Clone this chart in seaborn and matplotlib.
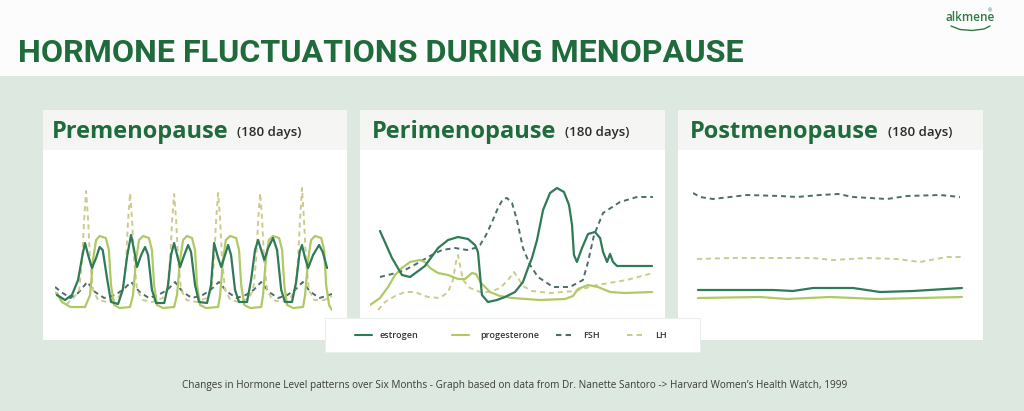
import numpy as np
import pandas as pd
import matplotlib
matplotlib.use("Agg")
import matplotlib.pyplot as plt
import seaborn as sns
from matplotlib.patches import Rectangle
from matplotlib.lines import Line2D

# ---------------- data (relative hormone level over 180 days) ----------------
# Premenopause
pre_est_day = [1.3, 6.5, 11, 15, 17.5, 19.5, 21.5, 24, 26.7, 29, 31, 34, 36.4, 41, 44, 47, 49.4, 51.4, 53.3, 56, 58.5,
               60.5, 63, 65.7, 71, 73.5, 75.4, 77.4, 79.3, 81.3, 84, 86.5, 88.4, 91, 93.6, 98.8, 101.4, 103.4, 106, 108,
               110.5, 112.5, 114.4, 117, 119.6, 124.8, 127.4, 130, 132, 134, 136, 138.5, 141.7, 144.3, 147, 149.5, 154,
               156.7, 159, 160.5, 162.5, 164.5, 167.7, 171.6, 174, 176.8]
pre_est_val = [25, 20, 25, 40, 62, 77, 65, 52, 62, 73, 70, 40, 18, 16, 30, 65, 85, 70, 53, 65, 73,
               65, 30, 17, 17, 35, 65, 77, 65, 53, 65, 75, 68, 35, 18, 17, 35, 77, 62, 53,
               65, 75, 65, 30, 18, 18, 40, 70, 80, 70, 60, 72, 82, 70, 30, 18, 18,
               38, 68, 75, 62, 52, 65, 75, 68, 52]

pre_pro_day = [1.3, 4.5, 10, 19.5, 22.8, 24.7, 26.7, 29, 33, 35, 36.4, 38.4, 42, 48.8, 50.7, 52.7, 54.6, 57.2, 61, 63,
               64.4, 66.3, 70.2, 77.4, 79.3, 81.3, 83.2, 85.8, 89, 91, 92.3, 94.3, 98, 106, 107.3, 109.2, 111, 113.8,
               117.7, 119.6, 121, 123, 126.8, 134, 135.2, 137, 139, 141.7, 145.6, 147.6, 149, 150.8, 154.7, 161.2,
               162.5, 164.5, 166.4, 169, 173, 174.9, 176.2, 178.1, 180]
pre_pro_val = [27, 18, 13, 13, 25, 60, 80, 84, 82, 70, 35, 15, 12, 13, 25, 60, 80, 84, 82, 70,
               35, 15, 12, 13, 25, 60, 80, 84, 82, 70, 35, 15, 12, 13, 25, 60, 80, 84,
               82, 70, 35, 15, 12, 13, 25, 60, 80, 84, 82, 70, 35, 15, 12, 13,
               25, 60, 80, 84, 82, 70, 35, 15, 10]

pre_fsh_day = [0, 5, 10, 15, 21, 26, 32, 39, 44, 49.5, 55, 61, 67, 73, 78, 83, 89, 96, 101, 106.5, 112, 118, 124,
               129, 134, 139, 145, 151, 156, 161, 166, 172, 180]
pre_fsh_val = [33, 27, 22, 27, 38, 28, 22, 25, 30, 38, 28, 22, 25, 30, 38, 28, 22, 25, 30, 38, 28, 22, 25,
               30, 38, 28, 22, 25, 30, 38, 28, 22, 26]

pre_lh_day = [0, 3.3, 7, 12, 15.7, 17.6, 18.9, 20.2, 21.5, 22.8, 24.7, 28, 34, 41,
              44.3, 46.2, 47.5, 48.8, 50.1, 51.4, 53.3, 57, 63, 70,
              72.9, 74.8, 76.1, 77.4, 78.7, 80, 81.9, 85.5, 92, 98.5,
              101.5, 103.4, 104.7, 106, 107.3, 108.6, 110.5, 114, 120, 126,
              128.8, 130.7, 132, 133.3, 134.6, 135.9, 137.8, 141.3, 147.5, 153,
              156, 157.9, 159.2, 160.5, 161.8, 163.1, 165, 168.5, 175, 180]
pre_lh_val = [28, 20, 15, 22, 30, 60, 100, 129, 100, 60, 30, 20, 18, 22,
              30, 60, 100, 127, 100, 60, 30, 20, 18, 22,
              30, 60, 100, 126, 100, 60, 30, 20, 18, 22,
              30, 60, 100, 127, 100, 60, 30, 20, 18, 22,
              30, 60, 100, 127, 100, 60, 30, 20, 18, 22,
              30, 60, 100, 132, 100, 60, 30, 20, 20, 24]

# Perimenopause
peri_est_day = [6.3, 13.9, 20.2, 25.3, 34.7, 43, 49.3, 55.6, 61.9, 66.3, 68.2, 69.5, 70.7, 74.5, 80.2, 85.3, 91.6,
                96.6, 99.8, 102.3, 105.5, 109.3, 113.7, 118.1, 122.5, 125.7, 127.6, 128.8, 130.7, 133.9, 137.7, 142.1,
                145.3, 147.2, 149.7, 151.6, 153.5, 156, 167.4, 178.1]
peri_est_val = [89, 62, 45, 43, 54, 72, 80, 83, 81, 75, 68, 45, 25, 18, 20, 23, 28,
                38, 52, 62, 80, 110, 127, 132, 128, 115, 95, 65, 58, 72, 86, 88,
                82, 68, 58, 66, 58, 54, 54, 54]

peri_pro_day = [0, 6.3, 11.4, 15.8, 20.2, 25.3, 31.6, 34.7, 37.9, 42.9, 49.3, 55.6, 60, 64.4, 67, 70.1, 75.8, 82.1,
                89.7, 107.4, 123.2, 128.2, 131.4, 137.7, 144, 151.6, 161.1, 178.1]
peri_pro_val = [15, 22, 33, 45, 52, 58, 60, 58, 52, 47, 45, 41, 41, 47, 46, 37, 28, 24,
                22, 20, 21, 24, 31, 35, 33, 28, 27, 28]

peri_fsh_day = [6.3, 13.9, 22.1, 30.3, 37.9, 45.5, 53.7, 61.3, 66.3, 69.5, 73.3, 77.1, 80.8, 84, 86.5, 89.7, 92.8,
                96.6, 101.1, 106.1, 115.6, 126.3, 134.5, 137.7, 141.5, 147.2, 157.9, 168.6, 178.7]
peri_fsh_val = [43, 46, 50, 57, 64, 70, 72, 70, 72, 75, 85, 98, 112, 121, 122, 117, 100,
                72, 55, 43, 33, 33, 40, 58, 85, 107, 118, 123, 123]

peri_lh_day = [5.1, 9.5, 15.8, 22.1, 28.4, 36.6, 44.2, 49.3, 52.4, 54.3, 55.6, 56.8, 58.7, 63.2, 69.5, 75.8, 82.1,
               87.2, 90.9, 93.5, 96.6, 102.3, 113.7, 129.5, 143.4, 162.3, 178.7]
peri_lh_val = [10, 18, 24, 28, 28, 23, 22, 28, 40, 58, 65, 55, 40, 32, 28, 28, 32,
               40, 48, 42, 34, 29, 27, 29, 35, 40, 47]

# Postmenopause
post_est_day = [3.3, 53.3, 66.7, 80, 106.7, 124.7, 146.7, 179.3]
post_est_val = [30, 30, 29, 32, 32, 28, 29, 32]
post_pro_day = [3.3, 44.7, 62.7, 91.3, 122.7, 179.3]
post_pro_val = [22, 23, 21, 23, 21, 23]
post_fsh_day = [0, 4.7, 13.3, 36, 58, 69.3, 84.7, 96.7, 106.7, 129.3, 142.7, 164.7, 178]
post_fsh_val = [127, 123, 121, 125, 124, 123, 125, 126, 123, 121, 124, 125, 123]
post_lh_day = [2.7, 24.7, 80, 93.3, 116, 136, 151.3, 169.3, 180]
post_lh_val = [61, 62, 62, 60, 62, 61, 58, 63, 63]

hormones = ["estrogen", "progesterone", "FSH", "LH"]
phase_titles = ["Premenopause", "Perimenopause", "Postmenopause"]
phase_sub = "(180 days)"
title = "HORMONE FLUCTUATIONS DURING MENOPAUSE"
caption = ("Changes in Hormone Level patterns over Six Months - Graph based on data from "
           "Dr. Nanette Santoro -> Harvard Women\u2019s Health Watch, 1999")

# ---------------- styling ----------------
W, H = 1024, 411
sns.set_theme(style="white")
plt.rcParams['font.family'] = ['Open Sans', 'DejaVu Sans']

COL = {"estrogen": "#2f7a57", "progesterone": "#afc964", "FSH": "#4d6c6c", "LH": "#cccb8f"}
LS = {"estrogen": "-", "progesterone": "-", "FSH": (0, (2.6, 2.0)), "LH": (0, (2.6, 2.0))}
LW = {"estrogen": 1.6, "progesterone": 1.6, "FSH": 1.4, "LH": 1.4}
GREEN = "#1f6b3c"

fig = plt.figure(figsize=(W / 100, H / 100), dpi=100)
fig.patch.set_facecolor("#dde8e0")


def fx(px):
    return px / W


def fy(py):
    return 1 - py / H


def rect(x0, y0, x1, y1, color, z=-2, ec="none", lw=0):
    fig.patches.append(Rectangle((fx(x0), fy(y1)), (x1 - x0) / W, (y1 - y0) / H,
                                 transform=fig.transFigure, facecolor=color,
                                 edgecolor=ec, linewidth=lw, zorder=z))


# header band
rect(0, 0, W, 76, "#fbfcfb")
fig.text(fx(18), fy(62), title, fontsize=23.2, fontweight="bold", color=GREEN,
         ha="left", va="baseline", family=["Roboto", "DejaVu Sans"])
# logo
fig.text(fx(970), fy(21), "alkmene", fontsize=8.5, color="#2e7a45", ha="center",
         va="baseline", fontweight="semibold")
fig.text(fx(990), fy(12), "\u00ae", fontsize=3.5, color="#2e7a45", ha="center", va="baseline")
fig.add_artist(Line2D([fx(951), fx(960), fx(972), fx(984), fx(990)],
                      [fy(26), fy(29.5), fy(30.5), fy(29), fy(26)],
                      color="#2e7a45", lw=1.0, transform=fig.transFigure))

panels = [(43, 347, 55, 332), (360, 665, 370, 655), (678, 983, 693, 963)]
datasets = [
    [(pre_est_day, pre_est_val), (pre_pro_day, pre_pro_val), (pre_fsh_day, pre_fsh_val), (pre_lh_day, pre_lh_val)],
    [(peri_est_day, peri_est_val), (peri_pro_day, peri_pro_val), (peri_fsh_day, peri_fsh_val), (peri_lh_day, peri_lh_val)],
    [(post_est_day, post_est_val), (post_pro_day, post_pro_val), (post_fsh_day, post_fsh_val), (post_lh_day, post_lh_val)],
]
title_x = [52, 372, 690]
sub_x = [237, 565, 888]

for i, ((p0, p1, a0, a1), series) in enumerate(zip(panels, datasets)):
    rect(p0, 110, p1, 340, "white")
    rect(p0, 110, p1, 150, "#f5f6f4", z=-1.9)
    fig.text(fx(title_x[i]), fy(138), phase_titles[i], fontsize=17, fontweight="bold",
             color=GREEN, ha="left", va="baseline")
    fig.text(fx(sub_x[i]), fy(136), phase_sub, fontsize=9.5, fontweight="semibold",
             color="#2a2a2a", ha="left", va="baseline")
    ax = fig.add_axes([fx(a0), fy(320), (a1 - a0) / W, 140 / H])
    ax.patch.set_alpha(0)
    # draw dashed series first, solid lines above
    order = [2, 3, 1, 0]
    for k in order:
        h = hormones[k]
        d, v = series[k]
        df = pd.DataFrame({"day": d, "level": v})
        sns.lineplot(data=df, x="day", y="level", ax=ax, color=COL[h], linestyle=LS[h],
                     linewidth=LW[h], estimator=None, sort=False, legend=False)
    ax.set_xlim(0, 180)
    ax.set_ylim(0, 140)
    ax.axis("off")

# legend box
rect(325, 318, 700, 352, "white", z=-1, ec="#e8eee9", lw=0.8)
leg_items = [(355, 380), (452, 480), (556, 583), (627, 655)]
for h, (lx, tx) in zip(hormones, leg_items):
    fig.add_artist(Line2D([fx(lx), fx(lx + 17)], [fy(335), fy(335)], color=COL[h],
                          linestyle=LS[h], lw=1.5, transform=fig.transFigure))
    fig.text(fx(tx), fy(335), h, fontsize=6.5, fontweight="semibold", color="#333333",
             ha="left", va="center")

fig.text(fx(515), fy(385), caption, fontsize=7.2, color="#3c3c3c", ha="center", va="center")

fig.savefig("out.png", dpi=100, facecolor=fig.get_facecolor())
